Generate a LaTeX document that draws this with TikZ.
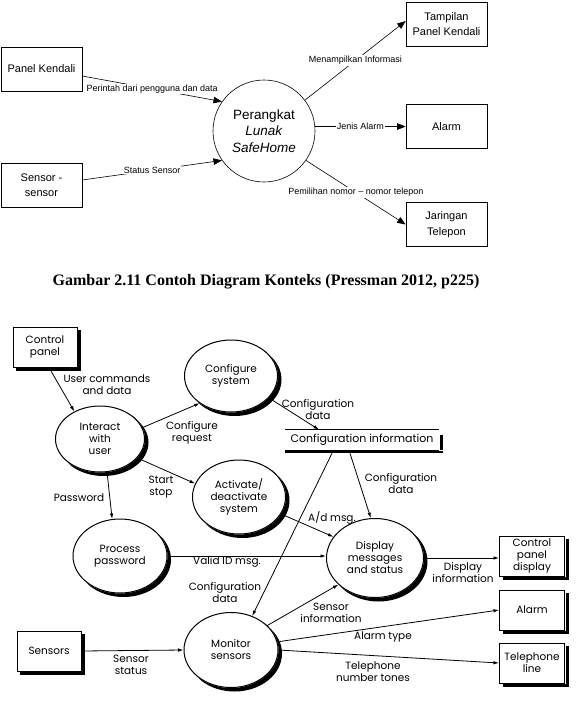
\documentclass[tikz,border=0pt]{standalone}
\usepackage{fontspec}
\setmainfont{Liberation Sans}
\newfontfamily\capfont{Liberation Serif}
\newfontfamily\dfdfont{Poppins}
\usetikzlibrary{arrows.meta,shapes.geometric}

% solid shadow along the right and bottom edge of a box node
\newcommand\boxshadow[1]{%
  \fill ([xshift=0.5pt,yshift=-3.5pt]#1.north east)
    rectangle ([xshift=3.5pt,yshift=-3.5pt]#1.south east);
  \fill ([xshift=3.5pt,yshift=-0.5pt]#1.south west)
    rectangle ([xshift=3.5pt,yshift=-3.5pt]#1.south east);}
% crescent shadow on the lower right of a bubble: node, half width, half height
\newcommand\bubshadow[3]{%
  \fill ([xshift=3.5pt,yshift=-3.5pt]#1.center) ++(45:#2 and #3)
    arc[start angle=45,end angle=-135,x radius=#2,y radius=#3]
    -- ([shift={(-135:#2 and #3)}]#1.center)
    arc[start angle=-135,end angle=45,x radius=#2,y radius=#3] -- cycle;}

\begin{document}
\begin{tikzpicture}[
  x=1pt,y=-1pt,
  line width=0.6pt,
  % context diagram: plain boxes, one bubble, labels sitting on the flows
  ext/.style={draw,minimum width=81pt,minimum height=44pt,inner sep=1pt,
    align=center,font=\fontsize{11}{15.5}\selectfont},
  sys/.style={draw,circle,minimum size=102pt,inner sep=0pt,align=center,
    font=\fontsize{13.5}{16.5}\selectfont},
  flow/.style={-{Triangle[length=8.5pt,width=6.5pt]}},
  lbl/.style={fill=white,inner sep=1pt,font=\fontsize{9}{10}\selectfont},
  % level 1 diagram: everything carries a solid black shadow
  dtext/.style={font=\dfdfont\fontsize{10.5}{12}\selectfont},
  term/.style={dtext,draw,line width=1pt,fill=white,inner sep=0pt,
    align=center,minimum width=64pt,minimum height=40pt},
  bubble/.style={dtext,draw,ellipse,line width=1pt,fill=white,
    inner sep=0pt,align=center},
  dflow/.style={line width=0.8pt,-{Latex[length=5.5pt,width=3.5pt]}},
  dlbl/.style={dtext,inner sep=0pt,align=center},
]
\useasboundingbox (0,0) rectangle (576,713);

%--- context diagram ---------------------------------------------------------
\node[ext] (pk)   at (41.5,69)    {Panel Kendali};
\node[ext] (ss)   at (41.5,185)   {Sensor -\\sensor};
\node[sys] (plsh) at (264,131)    {Perangkat\\\textit{Lunak}\\\textit{SafeHome}};
\node[ext] (tpk)  at (446.5,24)   {Tampilan\\Panel Kendali};
\node[ext] (alm)  at (446.5,126.5) {Alarm};
\node[ext] (jt)   at (446.5,224.5) {Jaringan\\Telepon};

\draw[flow] ([yshift=-7pt]pk.east) -- (plsh.145)
  node[lbl,midway] (fpk) {Perintah dari pengguna dan data};
\draw[flow] ([yshift=5pt]ss.east) -- (plsh.215)
  node[lbl,midway] (fss) {Status Sensor};
\draw[flow] (plsh.37) -- ([yshift=3pt]tpk.west)
  node[lbl,midway] (ftpk) {Menampilkan Informasi};
\draw[flow] (plsh.5) -- (plsh.5 -| alm.west)
  node[lbl,midway] (falm) {Jenis Alarm};
\draw[flow] (plsh.-35) -- (jt.west)
  node[lbl,midway] (fjt) {Pemilihan nomor – nomor telepon};

\node[font=\capfont\bfseries\fontsize{16}{19}\selectfont] (caption) at (266,282)
  {Gambar 2.11 Contoh Diagram Konteks (Pressman 2012, p225)};

%--- level 1 diagram ---------------------------------------------------------
\node[term] (cp) at (45,347) {Control\\panel};
\node[term] (sen) at (49,651) {Sensors};
\node[term,minimum width=65pt] (cpd)  at (532,556) {Control\\panel\\display};
\node[term,minimum width=65pt] (alm2) at (532,610) {Alarm};
\node[term,minimum width=65pt] (tl)   at (532,663) {Telephone\\line};

\node[bubble,minimum width=93pt,minimum height=72pt] (cs)  at (231,376) {Configure\\system};
\node[bubble,minimum width=89pt,minimum height=66pt] (iu)  at (100,439) {Interact\\with\\user};
\node[bubble,minimum width=93pt,minimum height=74pt] (ads) at (239,497) {Activate/\\deactivate\\system};
\node[bubble,minimum width=94pt,minimum height=74pt] (pp)  at (120,556) {Process\\password};
\node[bubble,minimum width=97pt,minimum height=79pt] (dms) at (375,558) {Display\\messages\\and status};
\node[bubble,minimum width=94pt,minimum height=75pt] (ms)  at (231,650) {Monitor\\sensors};

\boxshadow{cp} \boxshadow{sen} \boxshadow{cpd} \boxshadow{alm2} \boxshadow{tl}
\bubshadow{cs}{47pt}{36.5pt}
\bubshadow{iu}{45pt}{33.5pt}
\bubshadow{ads}{47pt}{37.5pt}
\bubshadow{pp}{47.5pt}{37.5pt}
\bubshadow{dms}{49pt}{40pt}
\bubshadow{ms}{47.5pt}{38pt}

% data store: open on the left, shadow along the bottom and the right end
\node[dlbl,font=\dfdfont\fontsize{11}{12}\selectfont,
  minimum width=153pt,minimum height=20pt] (cinfo) at (362,440)
  {Configuration information};
\draw[line width=1pt] (cinfo.north west) -- (cinfo.north east);
\draw[line width=1pt] (cinfo.south west) -- (cinfo.south east);
\fill ([yshift=-0.5pt]cinfo.south west) rectangle ([xshift=4pt,yshift=-3pt]cinfo.south east);
\fill ([xshift=1.5pt,yshift=-5pt]cinfo.north east) rectangle ([xshift=4pt]cinfo.south east);

\draw[dflow] ([xshift=4pt]cp.south) -- (iu.133);
\draw[dflow] (iu.15) -- (cs.221);
\draw[dflow] (iu.-27) -- (ads.163);
\draw[dflow] (iu.-78) -- (pp.102);
\draw[dflow] (cs.-30) -- ([xshift=-43pt]cinfo.north);
\draw[dflow] ([xshift=-12pt,yshift=-3pt]cinfo.south) -- (dms.96);
\draw[dflow] ([xshift=-30pt,yshift=-3pt]cinfo.south) -- (ms.58);
\draw[dflow] (ads.-22) -- (dms.153);
\draw[dflow] (pp.east) -- (pp.east -| dms.west);
\draw[dflow] (ms.34) -- (dms.-144);
\draw[dflow] (dms.east) -- (dms.east -| cpd.west);
\draw[dflow] (ms.10) -- (alm2.west);
\draw[dflow] (ms.east) -- (tl.west);
\draw[dflow] (sen.east) -- (ms.west);

\node[dlbl] (lcmd)  at (107,385) {User commands\\and data};
\node[dlbl] (lreq)  at (192,433) {Configure\\request};
\node[dlbl] (lss)   at (161,487) {Start\\stop};
\node[dlbl] (lpw)   at (79,498)  {Password};
\node[dlbl] (lcd1)  at (318,410) {Configuration\\data};
\node[dlbl] (lcd2)  at (401,484) {Configuration\\data};
\node[dlbl] (lad)   at (332,518) {A/d msg.};
\node[dlbl] (lvid)  at (227,562) {Valid ID msg.};
\node[dlbl] (lcd3)  at (225,593) {Configuration\\data};
\node[dlbl] (lsi)   at (331,613) {Sensor\\information};
\node[dlbl] (ldi)   at (463,573) {Display\\information};
\node[dlbl] (lat)   at (383,637) {Alarm type};
\node[dlbl] (ltel)  at (373,672) {Telephone\\number tones};
\node[dlbl] (lsst)  at (131,665) {Sensor\\status};

\end{tikzpicture}
\end{document}
